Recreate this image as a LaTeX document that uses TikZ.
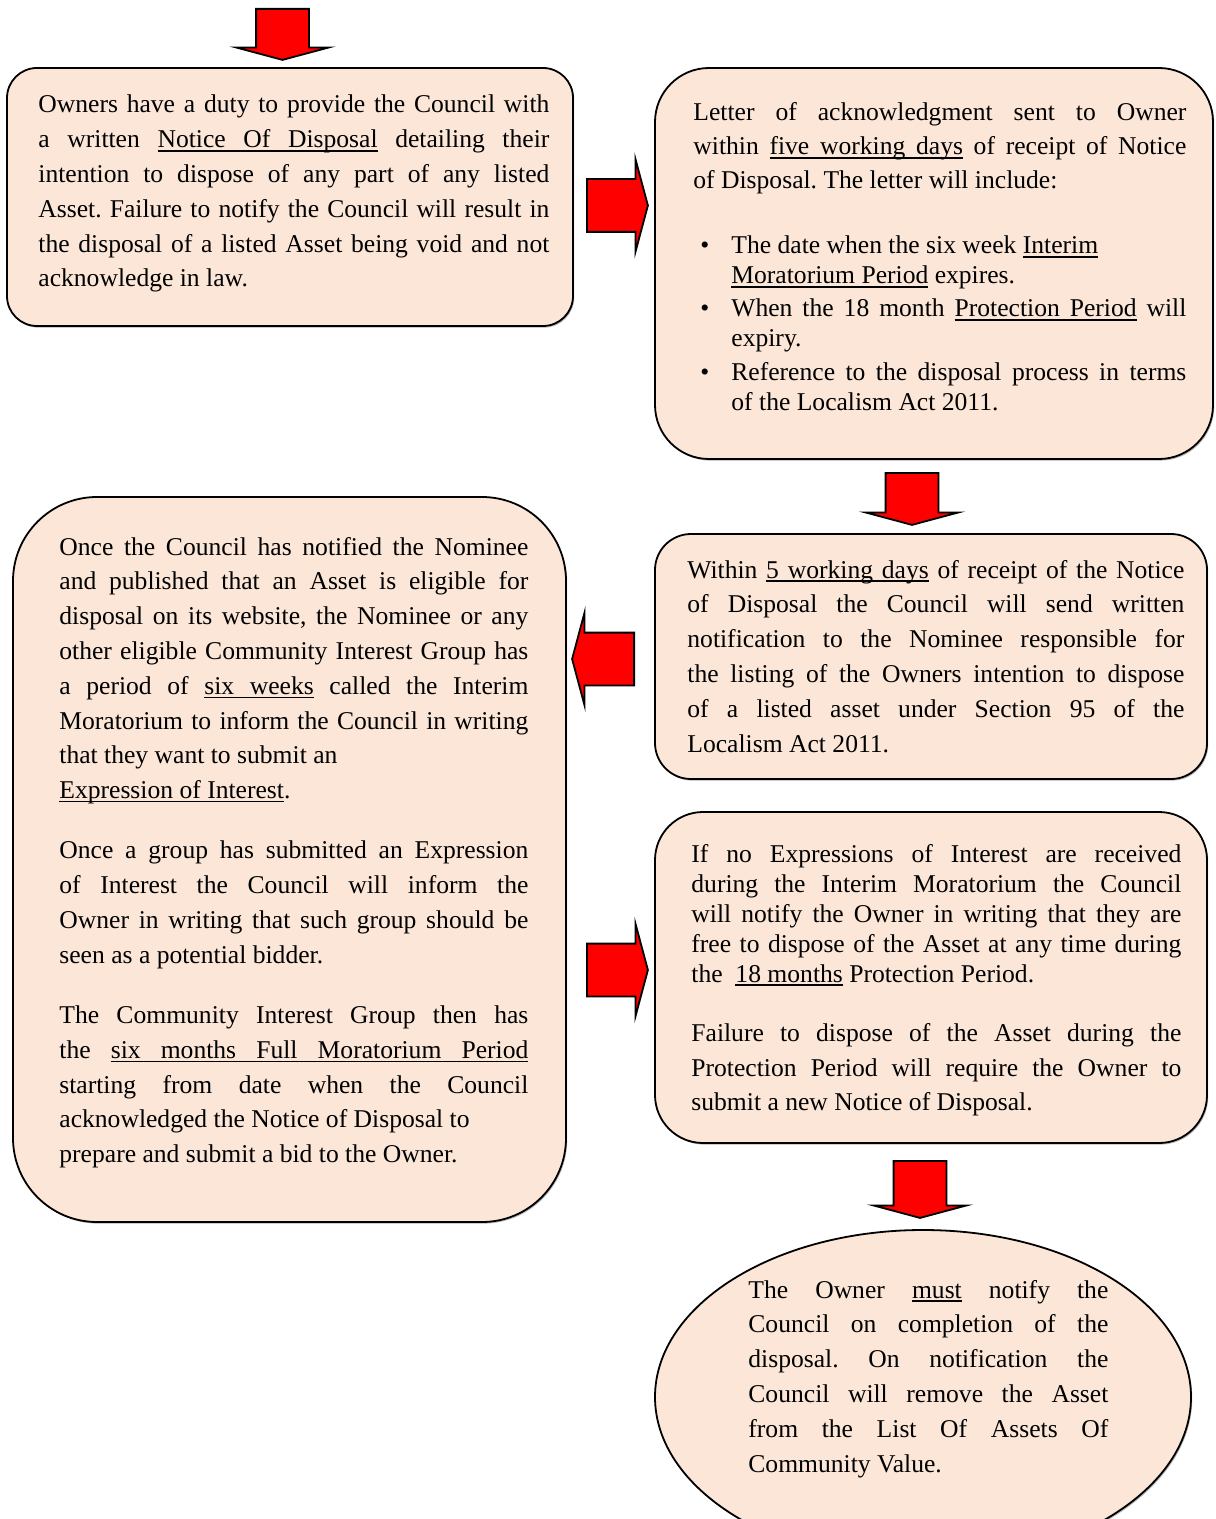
\documentclass[tikz,border=0pt]{standalone}
\usepackage{fontspec}
\setmainfont{Liberation Serif}
\usetikzlibrary{shapes.arrows,shapes.geometric,shadows}

\definecolor{peach}{HTML}{FBE6D8}
\newcommand{\bodyfont}{\fontsize{12.8}{17.4}\selectfont}
\newcommand{\bitem}{\noindent\hangindent=19pt\hangafter=1\hbox to 19pt{\hspace{3.5pt}\textbullet\hfil}}
\makeatletter
\newcommand{\ulw}[1]{\leavevmode\sbox\z@{#1}\rlap{\rule[-1.9pt]{\wd\z@}{0.7pt}}\box\z@}
\newcommand{\ulsp}{\leaders\hrule height -1.2pt depth 1.9pt\hskip\fontdimen2\font plus\fontdimen3\font minus\fontdimen4\font\relax}
\def\ulph#1{\ulph@word#1 \ulph@end}
\def\ulph@word#1 #2\ulph@end{\ulw{#1}\ifx\relax#2\relax\else\ulsp\ulph@word#2\ulph@end\fi}
\makeatother
\tolerance=10000
\hbadness=10000
\frenchspacing

\begin{document}
\begin{tikzpicture}[x=0.5pt,y=-0.5pt]
\tikzstyle{panel}=[draw=black, line width=0.9pt, fill=peach, drop shadow={shadow xshift=0.6pt, shadow yshift=-0.8pt, fill=black!50, opacity=0.6}]
\tikzstyle{body}=[inner sep=0pt, anchor=base west, align=justify, font=\bodyfont]
\tikzstyle{blockarrow}=[single arrow, draw=black, line width=0.9pt, fill=red, inner xsep=0pt, inner ysep=12.75pt, single arrow head extend=10pt, single arrow tip angle=150, anchor=tail]

\useasboundingbox (0,0) rectangle (1215,1519);

% boxes
\node[panel, rounded corners=15pt, minimum width=283pt, minimum height=129pt] (notice) at (290,197) {};
\node[panel, rounded corners=27pt, minimum width=279pt, minimum height=195.5pt] (letter) at (934,263.5) {};
\node[panel, rounded corners=42pt, minimum width=276.5pt, minimum height=362.5pt] (nominee) at (289.5,859.5) {};
\node[panel, rounded corners=18pt, minimum width=276pt, minimum height=122.5pt] (within) at (931,656.5) {};
\node[panel, rounded corners=24pt, minimum width=276pt, minimum height=165.5pt] (noint) at (931,977.5) {};
\node[panel, ellipse, minimum width=268pt, minimum height=167pt] (complete) at (923,1397) {};

% block arrows
\node[blockarrow, minimum height=25.5pt, rotate=-90] (start) at (282.5,8) {};
\node[blockarrow, minimum height=30.5pt] (toletter) at (586,205.5) {};
\node[blockarrow, minimum height=26pt, rotate=-90] (towithin) at (912,472) {};
\node[blockarrow, minimum height=31pt, rotate=180] (tonominee) at (635,659) {};
\node[blockarrow, minimum height=30.5pt] (tonoint) at (586,970) {};
\node[blockarrow, minimum height=28.5pt, rotate=-90] (tocomplete) at (920,1160) {};

% texts
\node[body, text width=255.5pt] (noticetxt) at (38,113) {%
Owners have a duty to provide the Council with\linebreak
a written \ulph{Notice Of Disposal} detailing their\linebreak
intention to dispose of any part of any listed\linebreak
Asset. Failure to notify the Council will result in\linebreak
the disposal of a listed Asset being void and not\linebreak
acknowledge in law.};

\node[body, text width=246.5pt] (lettertxt) at (693,121) {%
{\fontsize{12.8}{17}\selectfont
Letter of acknowledgment sent to Owner\linebreak
within \ulph{five working days} of receipt of Notice\linebreak
of Disposal. The letter will include:\par}
\vspace{17.5pt}
{\fontsize{12.8}{15}\selectfont
\bitem The date when the six week \ulph{Interim}\newline
\ulph{Moratorium Period} expires.\par
\vspace{1.5pt}
\bitem When the 18 month \ulph{Protection Period} will\linebreak
expiry.\par
\vspace{2pt}
\bitem Reference to the disposal process in terms\linebreak
of the Localism Act 2011.\par}};

\node[body, text width=234.5pt] (nomineetxt) at (59,555) {%
Once the Council has notified the Nominee\linebreak
and published that an Asset is eligible for\linebreak
disposal on its website, the Nominee or any\linebreak
other eligible Community Interest Group has\linebreak
a period of \ulph{six weeks} called the Interim\linebreak
Moratorium to inform the Council in writing\linebreak
that they want to submit an\newline
\ulph{Expression of Interest}.\par
\vspace{12.7pt}
Once a group has submitted an Expression\linebreak
of Interest the Council will inform the\linebreak
Owner in writing that such group should be\linebreak
seen as a potential bidder.\par
\vspace{12.7pt}
The Community Interest Group then has\linebreak
the \ulph{six months Full Moratorium Period}\linebreak
starting from date when the Council\linebreak
acknowledged the Notice of Disposal to\newline
prepare and submit a bid to the Owner.};

\node[body, text width=248.5pt] (withintxt) at (687,578) {%
Within \ulph{5 working days} of receipt of the Notice\linebreak
of Disposal the Council will send written\linebreak
notification to the Nominee responsible for\linebreak
the listing of the Owners intention to dispose\linebreak
of a listed asset under Section 95 of the\linebreak
Localism Act 2011.};

\node[body, text width=245pt] (nointtxt) at (691,862) {%
{\fontsize{12.8}{15}\selectfont
If no Expressions of Interest are received\linebreak
during the Interim Moratorium the Council\linebreak
will notify the Owner in writing that they are\linebreak
free to dispose of the Asset at any time during\linebreak
the\ \ \ulph{18 months} Protection Period.\par}
\vspace{12.2pt}
Failure to dispose of the Asset during the\linebreak
Protection Period will require the Owner to\linebreak
submit a new Notice of Disposal.};

\node[body, text width=180pt] (completetxt) at (748,1298) {%
The Owner \ulph{must} notify the\linebreak
Council on completion of the\linebreak
disposal. On notification the\linebreak
Council will remove the Asset\linebreak
from the List Of Assets Of\linebreak
Community Value.};
\end{tikzpicture}
\end{document}
